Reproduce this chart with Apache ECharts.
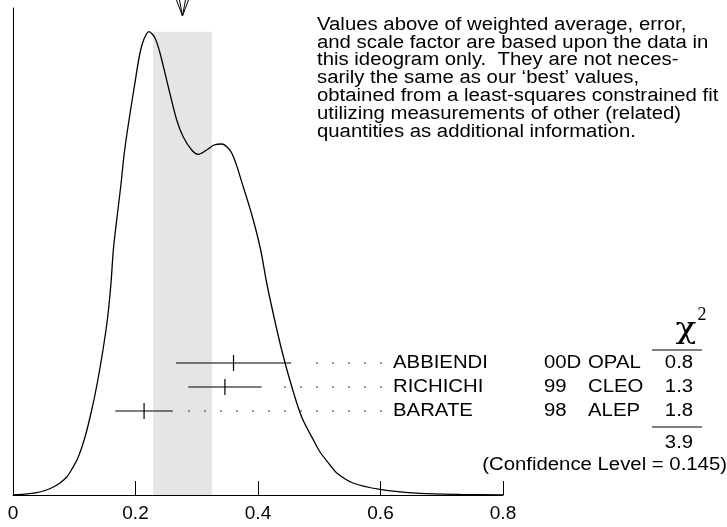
<!DOCTYPE html>
<html><head><meta charset="utf-8">
<script src="https://cdn.jsdelivr.net/npm/echarts@6/dist/echarts.min.js"></script>
<style>html,body{margin:0;padding:0;background:#fff}#c{width:727px;height:527px}</style>
</head><body><div id="c"></div>
<script>
// ideogram curve
const curveX = [0, 0.0196, 0.0387, 0.0522, 0.0658, 0.0767, 0.0877, 0.0963, 0.1066, 0.1176, 0.1285, 0.1376, 0.1469, 0.1546, 0.16, 0.1638, 0.1693, 0.1758, 0.1817, 0.1894, 0.198, 0.2073, 0.2139, 0.222, 0.2318, 0.24, 0.2536, 0.2673, 0.278, 0.2918, 0.3025, 0.3162, 0.3282, 0.3407, 0.3571, 0.376, 0.3923, 0.4044, 0.4142, 0.4261, 0.4387, 0.4534, 0.4713, 0.4931, 0.5012, 0.5176, 0.5285, 0.5551, 0.5992, 0.6645, 0.7298, 0.8];
const curveY = [0, 0.08, 0.23, 0.45, 0.8, 1.2, 1.8, 2.6, 3.8, 5.8, 8.5, 11.2, 14.5, 17.8, 21.2, 24.5, 27.5, 30.8, 34.2, 37.5, 40.8, 44.2, 45.6, 46.33, 45.7, 44.2, 40.8, 37.5, 35.8, 34.5, 34.07, 34.5, 35.0, 35.1, 34.2, 30.8, 27.5, 24.5, 21.2, 17.8, 14.5, 11.2, 7.8, 5.2, 4.3, 3.0, 2.2, 1.2, 0.57, 0.17, 0.05, 0.01];
// measurements
const names = ['ABBIENDI', 'RICHICHI', 'BARATE'];
const years = ['00D', '99', '98'];
const experiments = ['OPAL', 'CLEO', 'ALEP'];
const values = [0.360, 0.346, 0.214];
const errors = [0.094, 0.060, 0.047];
const chi2 = ['0.8', '1.3', '1.8'];
const chi2Total = '3.9';
const confidenceLevel = '0.145';
// weighted average and its (scaled) error
const average = 0.2767;
const averageError = 0.048;
const xTickValues = [0, 0.2, 0.4, 0.6, 0.8];
const noteText = 'Values above of weighted average, error,\nand scale factor are based upon the data in\nthis ideogram only.  They are not neces-\nsarily the same as our \u2018best\u2019 values,\nobtained from a least-squares constrained fit\nutilizing measurements of other (related)\nquantities as additional information.';

const FONT = '"Liberation Sans", Arial, sans-serif';
const FS = 18;
const SX = 1.13; // horizontal stretch of the lettering
const chart = echarts.init(document.getElementById('c'), null, {renderer: 'canvas'});
const peak = Math.max.apply(null, curveY);
const curveData = curveX.map((x, i) => [x, curveY[i]]);
const rowData = values.map((v, i) => [v, v - errors[i], v + errors[i], i]);

const L = {nameX: 393, yearX: 544, expX: 588, chiX: 679, dotLast: 381, dotStep: 16, dotGap: 12};

const option = {
  animation: false,
  grid: [
    {left: 13, right: 224, top: 8, bottom: 32},
    {left: 13, right: 224, top: 351, height: 72}
  ],
  xAxis: [
    {type: 'value', gridIndex: 0, min: 0, max: 0.8, interval: 0.2,
     axisLine: {show: true, lineStyle: {color: '#000', width: 1}},
     axisTick: {show: true, inside: true, length: 14, lineStyle: {color: '#000', width: 1}},
     axisLabel: {color: '#000', fontSize: 19, fontFamily: FONT, margin: 9,
       formatter: v => (xTickValues.some(t => Math.abs(t - v) < 1e-9) ? String(+v.toFixed(1)) : '')},
     splitLine: {show: false}},
    {type: 'value', gridIndex: 1, min: 0, max: 0.8, show: false}
  ],
  yAxis: [
    {type: 'value', gridIndex: 0, min: 0, max: 48.7,
     axisLine: {show: true, lineStyle: {color: '#000', width: 1}},
     axisTick: {show: false}, axisLabel: {show: false}, splitLine: {show: false}},
    {type: 'category', gridIndex: 1, data: names, inverse: true, show: false}
  ],
  series: [
    {type: 'line', xAxisIndex: 0, yAxisIndex: 0, data: curveData, showSymbol: false, smooth: 0.3,
     lineStyle: {color: '#000', width: 1.3}, z: 3,
     markArea: {silent: true, itemStyle: {color: '#e5e5e5'},
       data: [[{xAxis: average - averageError, yAxis: 0}, {xAxis: average + averageError, yAxis: peak}]]}},
    {type: 'custom', xAxisIndex: 1, yAxisIndex: 1, data: rowData, z: 5,
     renderItem: function (params, api) {
       const row = api.value(3);
       const c = api.coord([api.value(0), row]);
       const lo = api.coord([api.value(1), row]);
       const hi = api.coord([api.value(2), row]);
       const y = c[1];
       const ch = [
         {type: 'line', shape: {x1: lo[0], y1: y, x2: hi[0], y2: y}, style: {stroke: '#000', lineWidth: 1.2}},
         {type: 'line', shape: {x1: c[0], y1: y - 8, x2: c[0], y2: y + 8}, style: {stroke: '#000', lineWidth: 1.2}}
       ];
       for (let d = L.dotLast; d > hi[0] + L.dotGap; d -= L.dotStep) {
         ch.push({type: 'rect', shape: {x: d - 0.75, y: y - 0.75, width: 1.5, height: 1.5}, style: {fill: '#444'}});
       }
       const ts = {fill: '#000', fontSize: FS, fontFamily: FONT, textVerticalAlign: 'middle'};
       const t = (x, s, al) => ({type: 'text', x: x, y: y, scaleX: SX, style: Object.assign({text: s, textAlign: al}, ts)});
       ch.push(t(L.nameX, names[row], 'left'));
       ch.push(t(L.yearX, years[row], 'left'));
       ch.push(t(L.expX, experiments[row], 'left'));
       ch.push(t(L.chiX, chi2[row], 'center'));
       return {type: 'group', children: ch};
     }}
  ]
};
chart.setOption(option);

const ax = chart.convertToPixel({xAxisIndex: 0}, average);
chart.setOption({
  graphic: [
    {type: 'text', x: 317, y: 16, scaleX: SX, style: {text: noteText, fontSize: FS, fontFamily: FONT, fill: '#000', lineHeight: 17.8}},
    {type: 'group', children: [
      {type: 'polyline', shape: {points: [[ax - 6, 0], [ax, 16], [ax + 6, 0]]}, style: {stroke: '#000', lineWidth: 1, fill: null}},
      {type: 'polyline', shape: {points: [[ax - 3, 0], [ax, 16], [ax + 3, 0]]}, style: {stroke: '#000', lineWidth: 1, fill: null}}
    ]},
    {type: 'text', x: 686, y: 330, scaleX: 1.15, style: {text: '\u03c7', font: '30px "DejaVu Serif", serif', fill: '#000', textAlign: 'center', textVerticalAlign: 'middle'}},
    {type: 'text', x: 702, y: 315, style: {text: '2', font: '18px "Liberation Serif", serif', fill: '#000', textAlign: 'center', textVerticalAlign: 'middle'}},
    {type: 'line', shape: {x1: 652, y1: 350, x2: 702, y2: 350}, style: {stroke: '#555', lineWidth: 1.5}},
    {type: 'line', shape: {x1: 652, y1: 427, x2: 702, y2: 427}, style: {stroke: '#555', lineWidth: 1.5}},
    {type: 'text', x: 679, y: 443, scaleX: SX, style: {text: chi2Total, fontSize: FS, fontFamily: FONT, fill: '#000', textAlign: 'center', textVerticalAlign: 'middle'}},
    {type: 'text', x: 727, y: 465, scaleX: SX, style: {text: '(Confidence Level = ' + confidenceLevel + ')', fontSize: FS, fontFamily: FONT, fill: '#000', textAlign: 'right', textVerticalAlign: 'middle'}}
  ]
});
</script></body></html>
